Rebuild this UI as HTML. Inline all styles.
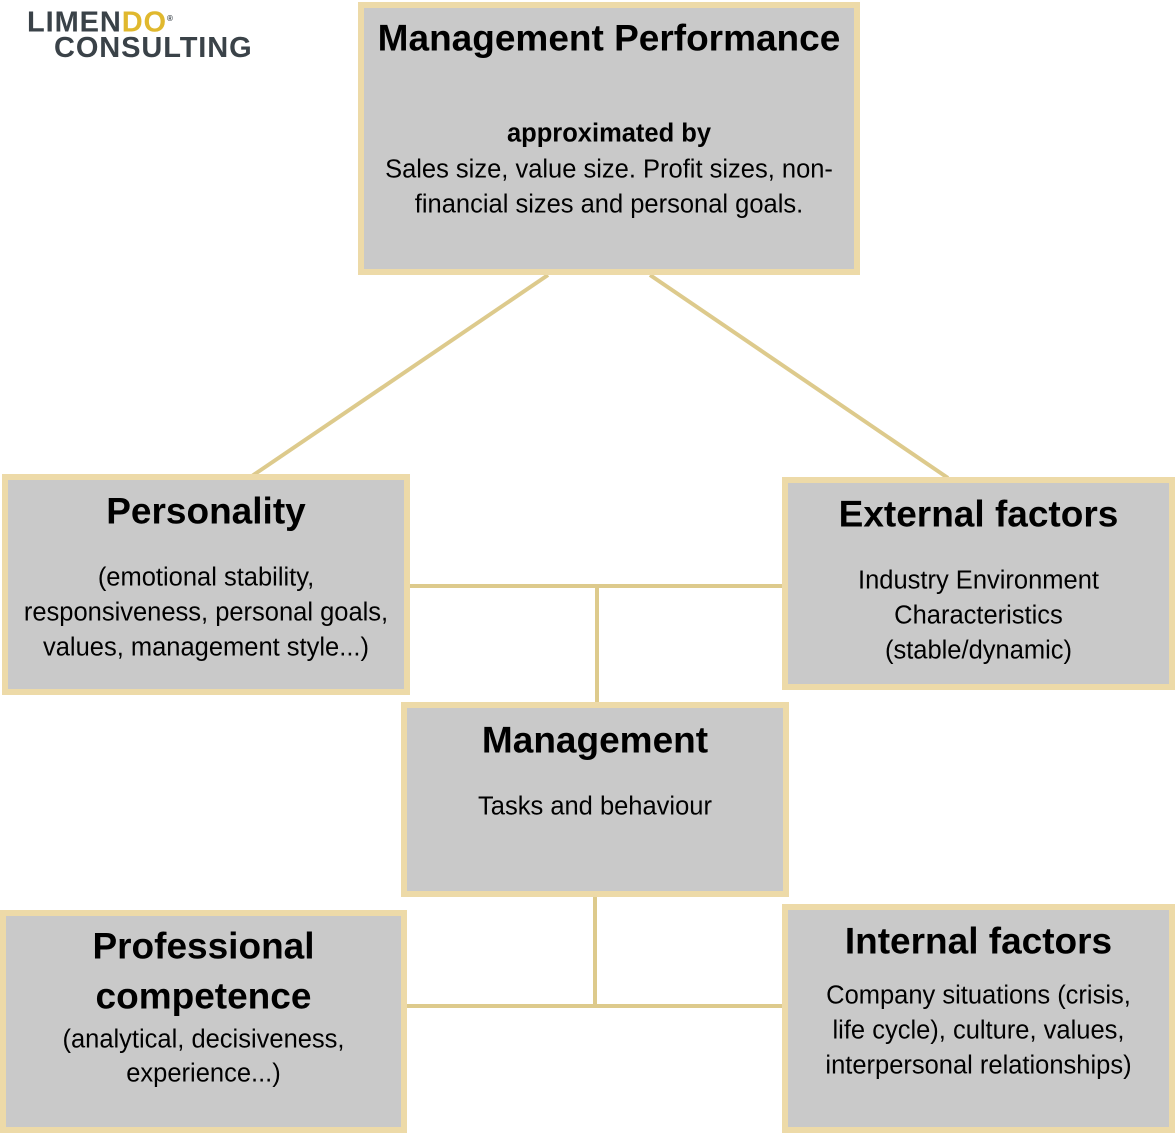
<!DOCTYPE html>
<html><head><meta charset="utf-8"><style>
body{margin:0;width:1175px;height:1133px;background:#fff;position:relative;overflow:hidden;font-family:"Liberation Sans",Arial,sans-serif;color:#000}
.b{position:absolute;box-sizing:border-box;background:#c9c9c9;border:6px solid #eddaa8}
.t{position:absolute;text-align:center;white-space:nowrap;line-height:1;transform:translateY(-50%)}
.h{font-weight:bold;font-size:37px}
.s{font-size:25.5px}
</style></head><body>
<svg width="1175" height="1133" style="position:absolute;left:0;top:0">
<g stroke="#ddca8c" stroke-width="4" fill="none">
<line x1="548" y1="275" x2="252" y2="476"/>
<line x1="650" y1="275" x2="948" y2="478"/>
<line x1="408" y1="586" x2="784" y2="586"/>
<line x1="597" y1="586" x2="597" y2="704"/>
<line x1="595" y1="895" x2="595" y2="1006"/>
<line x1="405" y1="1006" x2="784" y2="1006"/>
</g>
</svg>
<div style="position:absolute;left:27px;top:6px;font-weight:bold;font-size:29px;line-height:25px;color:#3a4248;letter-spacing:0.9px">LIMEN<span style="color:#e0b82e">DO</span><sup style="font-size:8px;color:#3a4248">®</sup><br><span style="padding-left:27px">CONSULTING</span></div>

<div class="b" style="left:358px;top:2px;width:502px;height:273px"></div>
<div class="t h" style="left:358px;width:502px;top:38px">Management Performance</div>
<div class="t s" style="left:358px;width:502px;top:134px;font-weight:bold">approximated by</div>
<div class="t s" style="left:358px;width:502px;top:170px">Sales size, value size. Profit sizes, non-</div>
<div class="t s" style="left:358px;width:502px;top:205px">financial sizes and personal goals.</div>

<div class="b" style="left:2px;top:474px;width:408px;height:221px"></div>
<div class="t h" style="left:2px;width:408px;top:511px">Personality</div>
<div class="t s" style="left:2px;width:408px;top:578px">(emotional stability,</div>
<div class="t s" style="left:2px;width:408px;top:613px">responsiveness, personal goals,</div>
<div class="t s" style="left:2px;width:408px;top:648px">values, management style...)</div>

<div class="b" style="left:782px;top:477px;width:393px;height:213px"></div>
<div class="t h" style="left:782px;width:393px;top:514px">External factors</div>
<div class="t s" style="left:782px;width:393px;top:581px">Industry Environment</div>
<div class="t s" style="left:782px;width:393px;top:616px">Characteristics</div>
<div class="t s" style="left:782px;width:393px;top:651px">(stable/dynamic)</div>

<div class="b" style="left:401px;top:702px;width:388px;height:195px"></div>
<div class="t h" style="left:401px;width:388px;top:740px">Management</div>
<div class="t s" style="left:401px;width:388px;top:807px">Tasks and behaviour</div>

<div class="b" style="left:0px;top:910px;width:407px;height:223px"></div>
<div class="t h" style="left:0px;width:407px;top:946px">Professional</div>
<div class="t h" style="left:0px;width:407px;top:996px">competence</div>
<div class="t s" style="left:0px;width:407px;top:1040px">(analytical, decisiveness,</div>
<div class="t s" style="left:0px;width:407px;top:1074px">experience...)</div>

<div class="b" style="left:782px;top:904px;width:393px;height:229px"></div>
<div class="t h" style="left:782px;width:393px;top:941px">Internal factors</div>
<div class="t s" style="left:782px;width:393px;top:996px">Company situations (crisis,</div>
<div class="t s" style="left:782px;width:393px;top:1031px">life cycle), culture, values,</div>
<div class="t s" style="left:782px;width:393px;top:1066px">interpersonal relationships)</div>
</body></html>
